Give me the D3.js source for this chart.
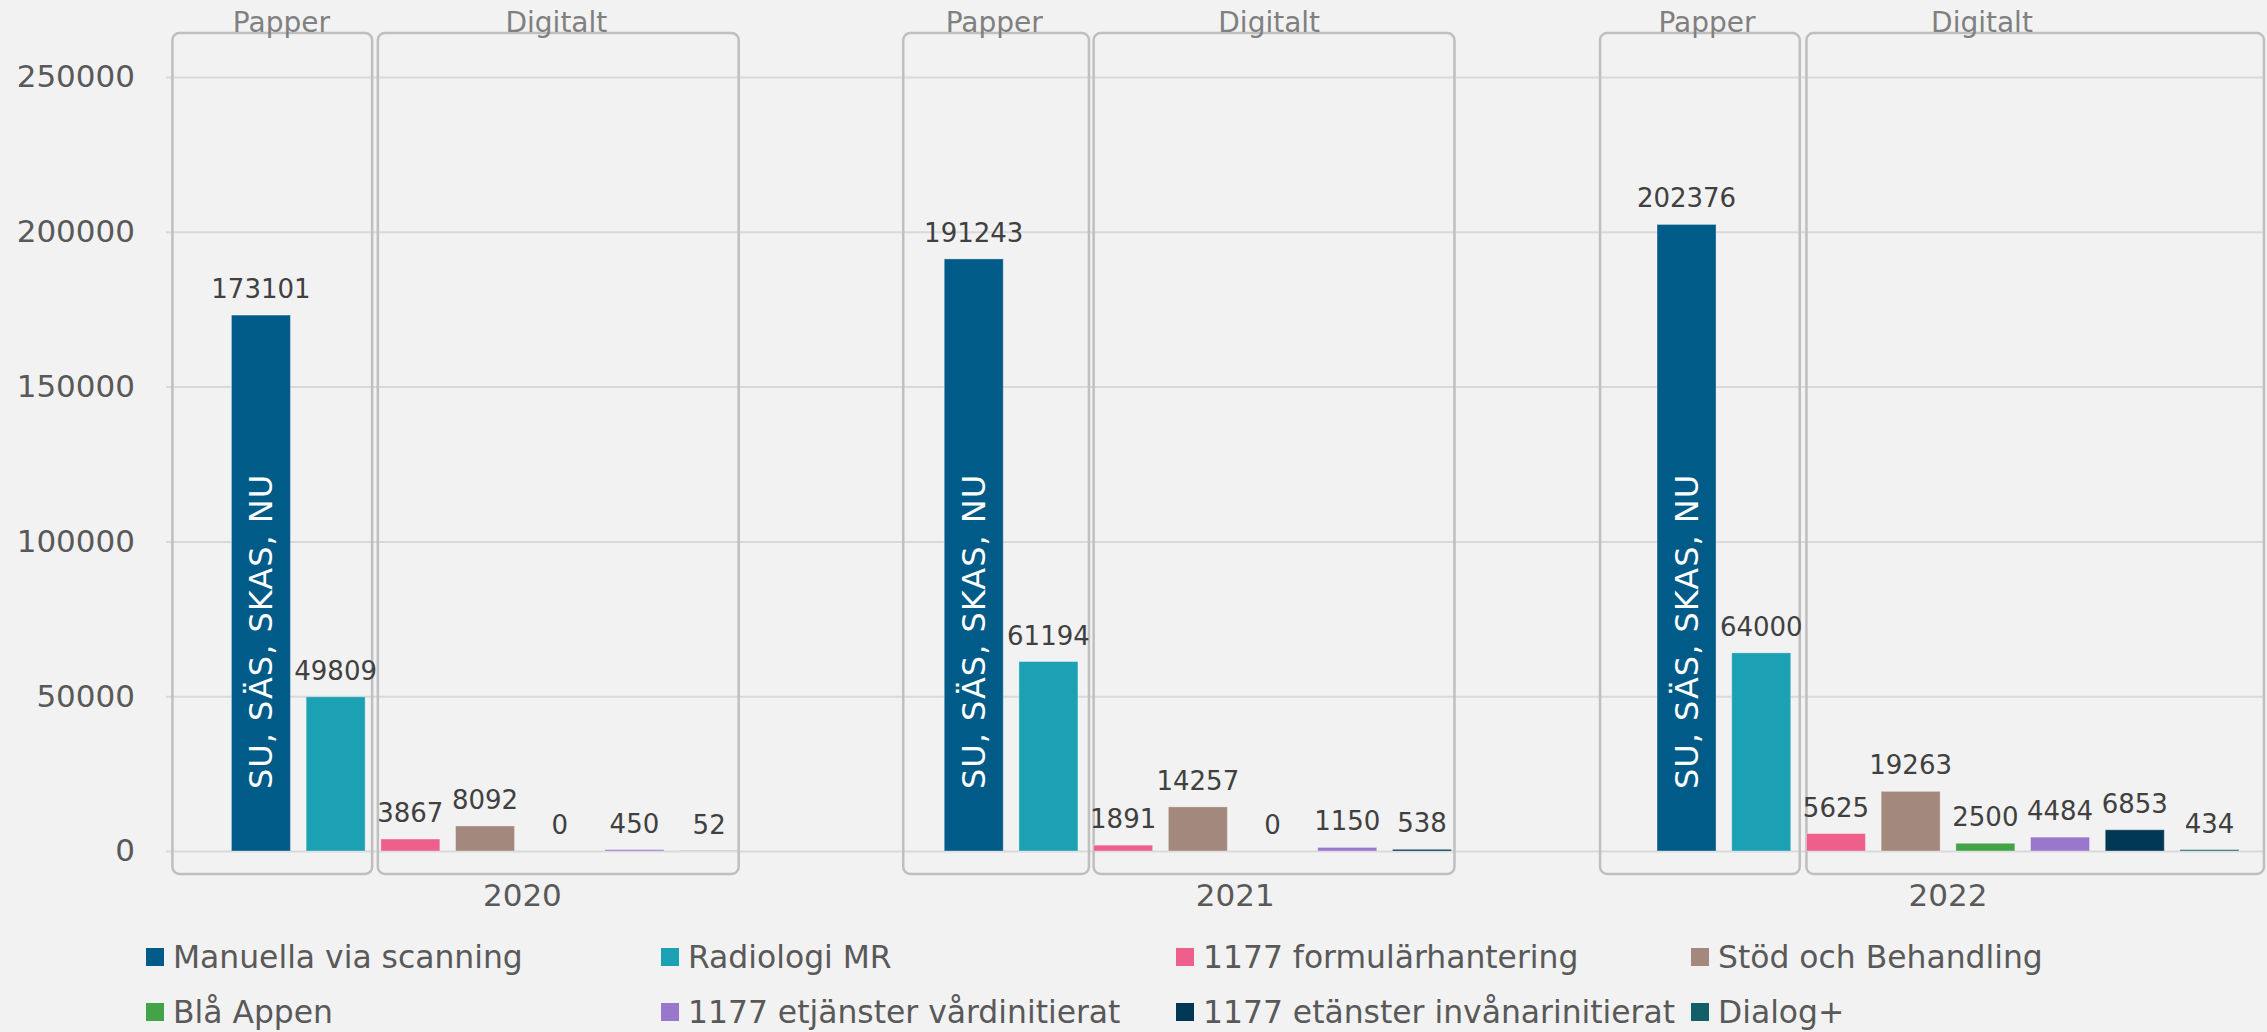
<!DOCTYPE html>
<html>
<head>
<meta charset="utf-8">
<script src="https://cdn.jsdelivr.net/npm/d3@7"></script>
<style>
  html, body { margin: 0; padding: 0; background: #f2f2f2; }
  svg { display: block; font-family: "DejaVu Sans", Verdana, sans-serif; }
</style>
</head>
<body>
<svg id="chart" width="2267" height="1032"></svg>
<script>
const years = ["2020", "2021", "2022"];
const seriesNames = [
  "Manuella via scanning",
  "Radiologi MR",
  "1177 formulärhantering",
  "Stöd och Behandling",
  "Blå Appen",
  "1177 etjänster vårdinitierat",
  "1177 etänster invånarinitierat",
  "Dialog+"
];
const seriesColors = ["#005b88", "#1ca0b4", "#ee5f8b", "#a2887d", "#43a347", "#9877cc", "#003755", "#135f68"];

const manuella = [173101, 191243, 202376];
const radiologi = [49809, 61194, 64000];
const formular = [3867, 1891, 5625];
const stod = [8092, 14257, 19263];
const blaAppen = [0, 0, 2500];
const etjVard = [450, 1150, 4484];
const etjInv = [52, 538, 6853];
const dialog = [null, null, 434];

const yTicks = [0, 50000, 100000, 150000, 200000, 250000];
const boxLabels = ["Papper", "Digitalt"];
const paperNote = "SU, SÄS, SKAS, NU";

const seriesValues = [manuella, radiologi, formular, stod, blaAppen, etjVard, etjInv, dialog];
const series = seriesNames.map((name, i) => ({ name, color: seriesColors[i], values: seriesValues[i] }));

const width = 2267, height = 1032;
const left = 166, gridEnd = 2265;
const svg = d3.select("#chart");
svg.append("rect").attr("width", width).attr("height", height).attr("fill", "#f2f2f2");

// categories run past the right edge like in the original
const x0 = d3.scaleBand().domain(years).range([left, left + 3 * 712.8]).paddingInner(0.1836).paddingOuter(0.0918);
const x1 = d3.scaleBand().domain(seriesNames).range([0, x0.bandwidth()]).paddingInner(0.2102).paddingOuter(0);
const y = d3.scaleLinear().domain([0, 250000]).range([851, 77]);

// gridlines + y labels
const yAxis = svg.append("g")
  .attr("transform", `translate(${left},0)`)
  .call(d3.axisLeft(y).tickValues(yTicks).tickSize(-(gridEnd - left)).tickPadding(31).tickFormat(d3.format("d")));
yAxis.select(".domain").remove();
yAxis.selectAll("line").attr("stroke", "#d9d9d9").attr("stroke-width", 2);
yAxis.selectAll("text").attr("fill", "#595959").style("font-size", "31px").style("font-family", "DejaVu Sans");

// boxes around paper / digital groups (pads in px around the bars)
const boxPads = [
  [[59, 7], [3, 0]],
  [[41, 11], [0, 3]],
  [[57, 9], [0, 25]]
];
// box titles sit at a fixed offset from the year centre
const boxLabelOffset = [-241, 34];
const boxG = svg.append("g");
years.forEach((yr, yi) => {
  const last = d3.max(series.map((s, i) => s.values[yi] != null ? i : -1));
  const spans = [[0, 1], [2, last]];
  const mid = x0(yr) + x0.bandwidth() / 2;
  spans.forEach(([a, b], k) => {
    const x_a = x0(yr) + x1(seriesNames[a]) - boxPads[yi][k][0];
    const x_b = x0(yr) + x1(seriesNames[b]) + x1.bandwidth() + boxPads[yi][k][1];
    boxG.append("rect")
      .attr("x", x_a).attr("y", 33)
      .attr("width", x_b - x_a).attr("height", 874 - 33)
      .attr("rx", 7).attr("ry", 7)
      .attr("fill", "none")
      .attr("stroke", "#bfbfbf")
      .attr("stroke-width", 2.5);
    boxG.append("text")
      .attr("x", mid + boxLabelOffset[k]).attr("y", 32)
      .attr("text-anchor", "middle")
      .attr("fill", "#808080")
      .style("font-size", "28px")
      .text(boxLabels[k]);
  });
});

// bars
const groups = svg.selectAll(".year").data(years).join("g")
  .attr("class", "year")
  .attr("transform", d => `translate(${x0(d)},0)`);

groups.each(function (yr, yi) {
  const g = d3.select(this);
  const rows = series.filter(s => s.values[yi] != null).map(s => ({ s, v: s.values[yi] }));
  g.selectAll("rect").data(rows).join("rect")
    .attr("x", d => x1(d.s.name))
    .attr("y", d => y(d.v))
    .attr("width", x1.bandwidth())
    .attr("height", d => y(0) - y(d.v))
    .attr("fill", d => d.s.color)
    .attr("stroke", "rgba(255,255,255,0.35)")
    .attr("stroke-width", 1);
  g.selectAll("text.val").data(rows).join("text")
    .attr("class", "val")
    .attr("x", d => x1(d.s.name) + x1.bandwidth() / 2)
    .attr("y", d => y(d.v) - 17)
    .attr("text-anchor", "middle")
    .attr("fill", "#404040")
    .style("font-size", "26px")
    .text(d => d.v);
  g.append("text")
    .attr("transform", `translate(${x1(seriesNames[0]) + x1.bandwidth() / 2},789) rotate(-90)`)
    .attr("dominant-baseline", "central")
    .attr("fill", "white")
    .style("font-size", "32px")
    .style("letter-spacing", "1px")
    .text(paperNote);
});

// year axis
const xAxis = svg.append("g")
  .attr("transform", `translate(0,${y(0)})`)
  .call(d3.axisBottom(x0).tickSize(0).tickPadding(33));
xAxis.select(".domain").remove();
xAxis.selectAll("text").attr("fill", "#595959").style("font-size", "31px").style("font-family", "DejaVu Sans");

// legend
const legendCols = [146, 661, 1176, 1691];
const legend = svg.append("g");
series.forEach((s, i) => {
  const col = i % 4, row = Math.floor(i / 4);
  const lx = legendCols[col], ly = 948 + row * 55;
  legend.append("rect").attr("x", lx).attr("y", ly).attr("width", 18).attr("height", 18).attr("fill", s.color);
  legend.append("text")
    .attr("x", lx + 27).attr("y", ly + 20)
    .attr("fill", "#595959")
    .style("font-size", "31.4px")
    .text(s.name);
});
</script>
</body>
</html>
